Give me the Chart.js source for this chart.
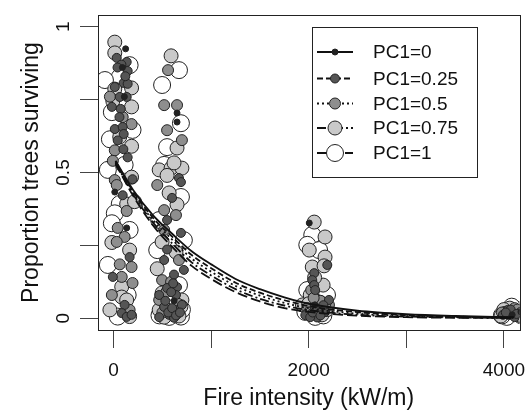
<!DOCTYPE html>
<html>
<head>
<meta charset="utf-8">
<script src="https://cdn.jsdelivr.net/npm/chart.js@4.4.0/dist/chart.umd.min.js"></script>
<style>
  html, body { margin: 0; padding: 0; background: #fff; }
</style>
</head>
<body>
<canvas id="chart" width="529" height="416"></canvas>
<script>
var seriesNames = ["PC1=0", "PC1=0.25", "PC1=0.5", "PC1=0.75", "PC1=1"];
var xTicks = [0, 1000, 2000, 3000, 4000];
var yTicks = [0, 0.25, 0.5, 0.75, 1];

// observed plots (jittered fire intensity, proportion surviving)
var pc0X = [123, 12, 134, 90, 110, 650, 650, 2005, 620, 2065, 4085, 4175];
var pc0Y = [0.924, 0.433, 0.31, 0.86, 0.76, 0.704, 0.673, 0.327, 0.06, 0.046, 0.012, 0.022];

var pc025X = [32, 134, 144, 103, 12, 144, 63, 134, 73, 12, 93, 103, 144, 194, 93, 164, -8, 113, 83, 134, 184, 42, -18, 80, 120, 60, 100, 40,
  670, 690, 599, 548, 690, 548, 518, 619, 548, 650, 639, 518, 650, 700, 569, 467, 619, 467, 720, 560, 600, 640, 530, 590, 680, 610,
  2190, 2056, 2036, 2056, 2066, 2207, 1965, 2086, 2167, 2015, 2040, 2100, 2120, 2060, 2150,
  4040, 4110, 4170, 3990, 4070, 4130, 4020];
var pc025Y = [0.893, 0.879, 0.848, 0.807, 0.793, 0.804, 0.759, 0.759, 0.718, 0.649, 0.656, 0.632, 0.552, 0.477, 0.422, 0.21, 0.142, 0.046, 0.018, 0.005, 0.012, 0.61, 0.725, 0.87, 0.83, 0.69, 0.58, 0.86,
  0.481, 0.467, 0.413, 0.337, 0.293, 0.236, 0.2, 0.15, 0.104, 0.107, 0.08, 0.039, 0.028, 0.046, 0.012, 0.004, 0.002, 0.08, 0.166, 0.02, 0.035, 0.01, 0.06, 0.09, 0.02, 0.12,
  0.183, 0.155, 0.131, 0.114, 0.097, 0.063, 0.011, 0.003, 0.022, 0.004, 0.02, 0.03, 0.01, 0.04, 0.045,
  0.029, 0.004, 0.022, 0.012, 0.03, 0.015, 0.02];

var pc05X = [12, 12, 32, 184, 134, 42, 113, 32, 63, 184, 83, 194, 164, -38, -8, 93, -18,
  558, 518, 650, 548, 518, 518, 639, 497, 589, 569, 467, 670, 447, 700, 500, 620, 660, 540,
  2086, 1985, 2136, 2207, 2025, 2000, 2080, 2170, 2120, 2050,
  4010, 4110, 4170, 4050, 4140, 3980];
var pc05Y = [0.576, 0.474, 0.457, 0.666, 0.368, 0.31, 0.279, 0.262, 0.185, 0.176, 0.142, 0.121, 0.029, 0.76, 0.54, 0.69, 0.08,
  0.851, 0.731, 0.731, 0.645, 0.371, 0.303, 0.354, 0.131, 0.125, 0.018, 0.063, 0.2, 0.457, 0.611, 0.02, 0.03, 0.05, 0.09,
  0.063, 0.035, 0.029, 0.046, 0.097, 0.02, 0.01, 0.05, 0.06, 0.07,
  0.022, 0.035, 0.004, 0.015, 0.03, 0.02];

var pc075X = [12, 12, 184, 12, -8, 184, 63, 184, 134, 184, 214, -18, 164, 83, 83, 134, -38, 164,
  589, 650, 467, 589, 700, 548, 619, 569, 650, 497, 639, 447, 497, 700, 467, 670, 518, 540, 620, 690,
  2056, 2167, 2005, 2167, 2036, 2157, 2015, 2147, 1935, 2136, 2036, 2000, 2090, 2190, 2060,
  4060, 4160, 3970, 4100, 4000];
var pc075Y = [0.947, 0.91, 0.79, 0.786, 0.745, 0.725, 0.622, 0.59, 0.392, 0.484, 0.4, 0.26, 0.234, 0.108, 0.073, 0.063, 0.029, 0.006,
  0.9, 0.584, 0.509, 0.515, 0.515, 0.49, 0.533, 0.43, 0.39, 0.262, 0.227, 0.17, 0.087, 0.063, 0.029, 0.008, 0.004, 0.03, 0.015, 0.04,
  0.33, 0.279, 0.234, 0.21, 0.176, 0.18, 0.08, 0.114, 0.046, 0.012, 0.022, 0.05, 0.035, 0.03, 0.14,
  0.035, 0.012, 0.008, 0.02, 0.03];

var pc1X = [164, 63, -18, -89, -38, 194, -59, 113, 63, 12, -18, 144, -59, 164, 42,
  670, 497, 690, 548, 518, 690, 467, 720, 447, 670, 487, 569, 690, 470, 600, 700, 530,
  2036, 1985, 2106, 1985, 2187, 2066, 1965, 2150, 2030, 2110,
  4030, 4130, 3980, 4080, 4180];
var pc1Y = [0.868, 0.827, 0.707, 0.817, 0.614, 0.646, 0.509, 0.526, 0.392, 0.36, 0.326, 0.08, 0.183, 0.303, 0.006,
  0.851, 0.8, 0.669, 0.587, 0.526, 0.416, 0.337, 0.268, 0.234, 0.114, 0.012, 0.005, 0.006, 0.01, 0.02, 0.03, 0.04,
  0.286, 0.252, 0.234, 0.097, 0.08, 0.005, 0.022, 0.01, 0.04, 0.05,
  0.005, 0.029, 0.01, 0.04, 0.01];

// fitted curves
var curveX = [20, 200, 400, 600, 800, 1000, 1250, 1500, 1750, 2000, 2500, 3000, 3500, 4100];
var fit0 = [0.54, 0.44, 0.355, 0.29, 0.23, 0.185, 0.135, 0.1, 0.072, 0.05, 0.026, 0.014, 0.008, 0.004];
var fit025 = [0.538, 0.435, 0.346, 0.28, 0.217, 0.172, 0.122, 0.088, 0.062, 0.042, 0.021, 0.011, 0.006, 0.003];
var fit05 = [0.535, 0.43, 0.338, 0.27, 0.205, 0.16, 0.111, 0.078, 0.053, 0.035, 0.016, 0.008, 0.004, 0.002];
var fit075 = [0.533, 0.425, 0.33, 0.257, 0.192, 0.147, 0.1, 0.067, 0.044, 0.028, 0.012, 0.006, 0.003, 0.0015];
var fit1 = [0.53, 0.42, 0.32, 0.245, 0.18, 0.135, 0.09, 0.058, 0.035, 0.022, 0.009, 0.004, 0.002, 0.001];

var fills = ["#222222", "#555555", "#8e8e8e", "#c9c9c9", "#ffffff"];
var radii = [3, 4.5, 5.5, 7, 8.5];
var dashes = [[], [6, 3], [2, 3], [9, 3, 2, 3], [10, 4]];
var font = "'Liberation Sans', Arial, sans-serif";

function pairs(xs, ys) {
  return xs.map(function (x, i) { return { x: x, y: ys[i] }; });
}

var pointSets = [[pc0X, pc0Y], [pc025X, pc025Y], [pc05X, pc05Y], [pc075X, pc075Y], [pc1X, pc1Y]];
var fits = [fit0, fit025, fit05, fit075, fit1];

var datasets = [];
fits.forEach(function (f, i) {
  datasets.push({
    label: seriesNames[i] + " fit",
    data: pairs(curveX, f),
    showLine: true,
    borderColor: "#111",
    borderWidth: 1.8,
    borderDash: dashes[i],
    pointRadius: 0,
    cubicInterpolationMode: "monotone",
    clip: 0,
    order: 0
  });
});
pointSets.forEach(function (p, i) {
  datasets.push({
    label: seriesNames[i],
    data: pairs(p[0], p[1]),
    backgroundColor: fills[i],
    borderColor: "#222",
    borderWidth: 1,
    pointRadius: radii[i],
    clip: 0,
    order: i + 1
  });
});

var boxAndLegend = {
  id: "boxAndLegend",
  afterDraw: function (chart) {
    var ctx = chart.ctx, a = chart.chartArea;
    ctx.save();
    ctx.strokeStyle = "#222";
    ctx.lineWidth = 1;
    ctx.strokeRect(Math.round(a.left) + 0.5, Math.round(a.top) + 0.5,
      Math.round(a.right - a.left), Math.round(a.bottom - a.top));

    // legend
    ctx.strokeRect(312.5, 27.5, 165, 150);
    var rows = [52, 78.5, 103.5, 128, 153];
    ctx.font = "19px " + font;
    ctx.textBaseline = "middle";
    ctx.textAlign = "left";
    seriesNames.forEach(function (name, i) {
      var y = rows[i];
      ctx.beginPath();
      ctx.setLineDash(dashes[i]);
      ctx.lineWidth = 1.8;
      ctx.strokeStyle = "#111";
      ctx.moveTo(317, y);
      ctx.lineTo(353, y);
      ctx.stroke();
      ctx.setLineDash([]);
      ctx.beginPath();
      ctx.arc(335, y, radii[i], 0, Math.PI * 2);
      ctx.fillStyle = fills[i];
      ctx.fill();
      ctx.lineWidth = 1;
      ctx.strokeStyle = "#222";
      ctx.stroke();
      ctx.fillStyle = "#111";
      ctx.fillText(name, 373, y + 1);
    });
    ctx.restore();
  }
};

new Chart(document.getElementById("chart"), {
  type: "scatter",
  data: { datasets: datasets },
  plugins: [boxAndLegend],
  options: {
    responsive: false,
    animation: false,
    layout: { padding: { left: 0, right: 4, top: 15, bottom: 0 } },
    plugins: { legend: { display: false }, tooltip: { enabled: false } },
    scales: {
      x: {
        type: "linear",
        min: -160,
        max: 4160,
        afterBuildTicks: function (s) { s.ticks = xTicks.map(function (v) { return { value: v }; }); },
        afterFit: function (s) { s.height = 86; s.paddingLeft = 0; s.paddingRight = 0; },
        grid: { drawOnChartArea: false, drawTicks: true, tickLength: 18, color: "#444" },
        border: { display: false },
        ticks: {
          autoSkip: false,
          maxRotation: 0,
          padding: 11,
          color: "#111",
          font: { family: font, size: 19 },
          callback: function (v) { return (v % 2000 === 0) ? String(v) : ""; }
        },
        title: {
          display: true,
          text: "Fire intensity (kW/m)",
          color: "#111",
          font: { family: font, size: 23 },
          padding: { top: 0, bottom: 4 }
        }
      },
      y: {
        type: "linear",
        min: -0.04,
        max: 1.04,
        afterBuildTicks: function (s) { s.ticks = yTicks.map(function (v) { return { value: v }; }); },
        afterFit: function (s) { s.width = 98; s.paddingTop = 0; s.paddingBottom = 0; },
        grid: { drawOnChartArea: false, drawTicks: true, tickLength: 18, color: "#444" },
        border: { display: false },
        ticks: {
          autoSkip: false,
          minRotation: 90,
          maxRotation: 90,
          crossAlign: "center",
          padding: 3,
          color: "#111",
          font: { family: font, size: 19 },
          callback: function (v) { return (v === 0.25 || v === 0.75) ? "" : String(v); }
        },
        title: {
          display: true,
          text: "Proportion trees surviving",
          color: "#111",
          font: { family: font, size: 23 },
          padding: { top: 18, bottom: 0 }
        }
      }
    }
  }
});
</script>
</body>
</html>
